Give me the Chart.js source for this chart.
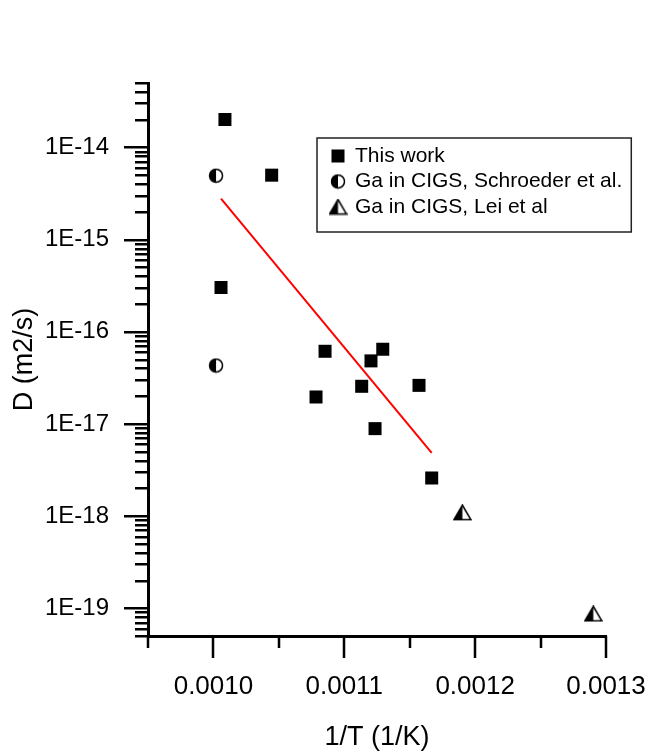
<!DOCTYPE html>
<html>
<head>
<meta charset="utf-8">
<script src="https://cdn.jsdelivr.net/npm/chart.js@4.4.0/dist/chart.umd.min.js"></script>
<style>
  body { margin: 0; background: #fff; }
  canvas { display: block; }
</style>
</head>
<body>
<canvas id="chart" width="664" height="755"></canvas>
<script>
// values (1/T in 1/K, D in m2/s)
const workX = [0.0010088, 0.0010445, 0.0010058, 0.0010853, 0.0011294, 0.0011204, 0.0011133, 0.0010784, 0.0011571, 0.0011235, 0.0011668];
const workD = [2.01e-14, 5.0e-15, 3.02e-16, 6.14e-17, 6.46e-17, 4.83e-17, 2.56e-17, 1.96e-17, 2.62e-17, 8.89e-18, 2.59e-18];

const schroederX = [0.0010020, 0.0010020];
const schroederD = [4.93e-15, 4.30e-17];

const leiX = [0.0011902, 0.0012903];
const leiD = [1.09e-18, 8.7e-20];

const fitX = [0.0010058, 0.0011668];
const fitD = [2.79e-15, 4.84e-18];

const xTickValues = [0.0010, 0.0011, 0.0012, 0.0013];
const xTickLabels = ['0.0010', '0.0011', '0.0012', '0.0013'];
const yTickValues = [1e-19, 1e-18, 1e-17, 1e-16, 1e-15, 1e-14];
const yTickLabels = ['1E-19', '1E-18', '1E-17', '1E-16', '1E-15', '1E-14'];

const FONT = '"Liberation Sans", Arial, sans-serif';

function toPoints(xs, ys) {
  return xs.map((x, i) => ({ x: x, y: ys[i] }));
}

// half filled circle marker (left half black)
function halfCircle(d) {
  const c = document.createElement('canvas');
  c.width = d + 2; c.height = d + 2;
  const g = c.getContext('2d');
  const cx = c.width / 2, cy = c.height / 2, r = d / 2 - 0.5;
  g.fillStyle = '#fff';
  g.beginPath(); g.arc(cx, cy, r, 0, Math.PI * 2); g.fill();
  g.fillStyle = '#000';
  g.beginPath(); g.moveTo(cx, cy); g.arc(cx, cy, r, Math.PI / 2, Math.PI * 1.5); g.closePath(); g.fill();
  g.strokeStyle = '#000'; g.lineWidth = 1.5;
  g.beginPath(); g.arc(cx, cy, r, 0, Math.PI * 2); g.stroke();
  return c;
}

// half filled triangle marker (left half black)
function halfTriangle(w, h) {
  const c = document.createElement('canvas');
  c.width = w + 2; c.height = h + 2;
  const g = c.getContext('2d');
  const cx = c.width / 2, top = 1, bot = h + 0.5, l = 1, r = w + 1;
  g.fillStyle = '#fff';
  g.beginPath(); g.moveTo(cx, top); g.lineTo(r, bot); g.lineTo(l, bot); g.closePath(); g.fill();
  g.fillStyle = '#000';
  g.beginPath(); g.moveTo(cx, top); g.lineTo(cx, bot); g.lineTo(l, bot); g.closePath(); g.fill();
  g.strokeStyle = '#000'; g.lineWidth = 1.5;
  g.beginPath(); g.moveTo(cx, top); g.lineTo(r, bot); g.lineTo(l, bot); g.closePath(); g.stroke();
  return c;
}

const circleImg = halfCircle(14);
const triangleImg = halfTriangle(17, 15);

function drawMarker(ctx, ds, x, y) {
  if (ds.pointStyle === 'rect') {
    const s = ds.pointRadius * Math.SQRT1_2;
    ctx.fillStyle = '#000';
    ctx.fillRect(x - s, y - s, 2 * s, 2 * s);
  } else {
    ctx.drawImage(ds.pointStyle, x - ds.pointStyle.width / 2, y - ds.pointStyle.height / 2);
  }
}

// Origin style tick marks, outward, with log minor ticks
const tickMarks = {
  id: 'tickMarks',
  afterDraw(chart) {
    const xs = chart.scales.x, ys = chart.scales.y;
    const ctx = chart.ctx;
    ctx.save();
    ctx.strokeStyle = '#000';
    ctx.lineWidth = 2.5;
    ctx.beginPath();
    for (let e = -20; e <= -14; e++) {
      for (let m = 1; m <= 9; m++) {
        const v = m * Math.pow(10, e);
        if (v < ys.min * 0.999 || v > ys.max * 1.001) continue;
        const py = Math.round(ys.getPixelForValue(v)) + 0.25;
        const len = m === 1 ? 24 : 13;
        ctx.moveTo(xs.left - len, py);
        ctx.lineTo(xs.left, py);
      }
    }
    for (let i = 0; i <= 7; i++) {
      const v = 0.00095 + i * 0.00005;
      const px = Math.round(xs.getPixelForValue(v));
      const len = i % 2 === 1 ? 22 : 12;
      ctx.moveTo(px, ys.bottom);
      ctx.lineTo(px, ys.bottom + len);
    }
    ctx.stroke();
    ctx.restore();
  }
};

// boxed legend inside the plot
const boxLegend = {
  id: 'boxLegend',
  afterDraw(chart) {
    const ctx = chart.ctx;
    const left = 317, top = 138, height = 94;
    const items = chart.data.datasets.filter(d => d.label);
    ctx.save();
    ctx.font = '21px ' + FONT;
    let w = 0;
    items.forEach(d => { w = Math.max(w, ctx.measureText(d.label).width); });
    ctx.strokeStyle = '#222';
    ctx.lineWidth = 1.5;
    ctx.strokeRect(left, top, 38 + w + 9, height);
    items.forEach((d, i) => {
      const y = top + 18 + i * 25.5;
      drawMarker(ctx, d, left + 21, y);
      ctx.fillStyle = '#000';
      ctx.textBaseline = 'middle';
      ctx.fillText(d.label, left + 38, y);
    });
    ctx.restore();
  }
};

new Chart(document.getElementById('chart'), {
  type: 'scatter',
  data: {
    datasets: [
      {
        data: toPoints(fitX, fitD),
        showLine: true,
        borderColor: '#ff0000',
        borderWidth: 2,
        pointRadius: 0
      },
      {
        label: 'This work',
        data: toPoints(workX, workD),
        pointStyle: 'rect',
        pointRadius: 9.2,
        backgroundColor: '#000',
        borderColor: '#000',
        borderWidth: 0
      },
      {
        label: 'Ga in CIGS, Schroeder et al.',
        data: toPoints(schroederX, schroederD),
        pointStyle: circleImg,
        pointRadius: 8
      },
      {
        label: 'Ga in CIGS, Lei et al',
        data: toPoints(leiX, leiD),
        pointStyle: triangleImg,
        pointRadius: 9
      }
    ]
  },
  options: {
    responsive: false,
    animation: false,
    events: [],
    layout: { padding: { top: 83, right: 58, left: 0, bottom: 0 } },
    plugins: {
      legend: { display: false },
      tooltip: { enabled: false }
    },
    scales: {
      x: {
        type: 'linear',
        min: 0.00095,
        max: 0.0013,
        afterFit: (s) => { s.height = 119; s.paddingLeft = 0; s.paddingRight = 0; },
        afterBuildTicks: (s) => { s.ticks = xTickValues.map(v => ({ value: v })); },
        grid: { display: false, drawTicks: false },
        border: { display: true, color: '#000', width: 3 },
        ticks: {
          padding: 35,
          color: '#000',
          maxRotation: 0,
          font: { family: FONT, size: 26 },
          callback: (v, i) => xTickLabels[i]
        },
        title: {
          display: true,
          text: '1/T (1/K)',
          color: '#000',
          font: { family: FONT, size: 27 },
          padding: { top: 0, bottom: 1 }
        }
      },
      y: {
        type: 'logarithmic',
        min: 5e-20,
        max: 5e-14,
        afterFit: (s) => { s.width = 148; s.paddingTop = 0; s.paddingBottom = 0; },
        afterBuildTicks: (s) => { s.ticks = yTickValues.map(v => ({ value: v })); },
        grid: { display: false, drawTicks: false },
        border: { display: true, color: '#000', width: 3 },
        ticks: {
          padding: 39,
          color: '#000',
          font: { family: FONT, size: 24 },
          callback: (v, i) => yTickLabels[i]
        },
        title: {
          display: true,
          text: 'D (m2/s)',
          color: '#000',
          font: { family: FONT, size: 27 },
          padding: { top: 8, bottom: 0 }
        }
      }
    }
  },
  plugins: [tickMarks, boxLegend]
});
</script>
</body>
</html>
